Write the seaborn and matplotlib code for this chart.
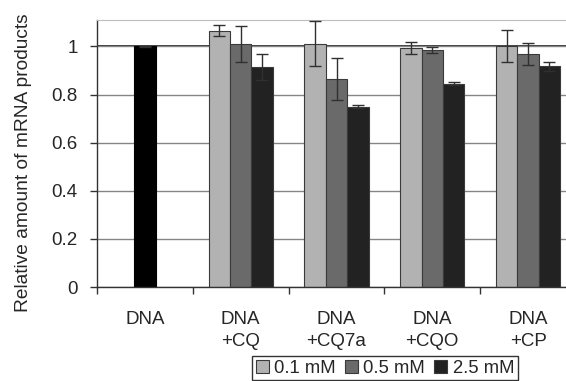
import numpy as np
import pandas as pd
import matplotlib
matplotlib.use("Agg")
import matplotlib.pyplot as plt
import seaborn as sns

# ---- data ----
CATEGORIES = ["DNA", "DNA\n+CQ", "DNA\n+CQ7a", "DNA\n+CQO", "DNA\n+CP"]
TREATMENTS = CATEGORIES[1:]
CONCS = ["0.1 mM", "0.5 mM", "2.5 mM"]

dna_value = [1.0]
dna_err = [0.003]

# rows = concentration, columns = treatment
values = [
    [1.066, 1.011, 0.995, 1.003],   # 0.1 mM
    [1.011, 0.866, 0.985, 0.968],   # 0.5 mM
    [0.914, 0.750, 0.846, 0.917],   # 2.5 mM
]
errors = [
    [0.024, 0.093, 0.025, 0.067],
    [0.076, 0.088, 0.013, 0.047],
    [0.053, 0.005, 0.006, 0.018],
]

COLORS = ["#b2b2b2", "#6a6a6a", "#222222"]

sns.set_style("white")
plt.rcParams["font.family"] = ["Liberation Sans", "DejaVu Sans"]
plt.rcParams["font.size"] = 13.5

df = pd.DataFrame({
    "group": np.repeat([TREATMENTS], len(CONCS), axis=0).ravel(),
    "conc": np.repeat(CONCS, len(TREATMENTS)),
    "value": np.ravel(values),
})

fig = plt.figure(figsize=(5.66, 3.81), dpi=100)
ax = fig.add_axes([97 / 566, 94 / 381, 479 / 566, 267 / 381])

# grid behind the bars
ax.set_axisbelow(True)
ax.yaxis.grid(True, color="#858585", linewidth=1.0)
ax.axhline(1.0, color="black", linewidth=1.1, zorder=0.5)

sns.barplot(data=df, x="group", y="value", hue="conc", order=CATEGORIES,
            hue_order=CONCS, palette=COLORS, width=0.67, gap=0,
            edgecolor="#3a3a3a", linewidth=0.8, errorbar=None, ax=ax,
            legend=True)

# error bars for the treatment groups
for cont, errs in zip(ax.containers, errors):
    xs = [b.get_x() + b.get_width() / 2 for b in cont]
    hs = [b.get_height() for b in cont]
    ax.errorbar(xs, hs, yerr=errs, fmt="none", ecolor="#303030",
                elinewidth=1.0, capsize=4.5, capthick=1.0, zorder=5)

# DNA reference bar (plain black, centred in its slot)
sns.barplot(x=["DNA"], y=dna_value, order=CATEGORIES, color="black",
            width=0.23, edgecolor="black", linewidth=0.8, errorbar=None, ax=ax)
dna_bar = ax.patches[-1]
ax.errorbar([dna_bar.get_x() + dna_bar.get_width() / 2], dna_value,
            yerr=dna_err, fmt="none", ecolor="#303030", elinewidth=1.0,
            capsize=4.5, zorder=5)

ax.set_ylim(0, 1.11)
ax.set_xlim(-0.5, len(CATEGORIES) - 0.5)
ax.set_yticks([0, 0.2, 0.4, 0.6, 0.8, 1.0])
ax.set_yticklabels(["0", "0.2", "0.4", "0.6", "0.8", "1"])
ax.set_xlabel("")
ax.set_ylabel("Relative amount of mRNA products", fontsize=13.8)
ax.yaxis.set_label_coords(-0.135, 0.464)

# tick marks between the categories, labels at the centres
ax.set_xticks(np.arange(-0.5, len(CATEGORIES), 1.0), minor=True)
ax.tick_params(axis="x", which="minor", length=5, width=1, color="#333333",
               direction="out", bottom=True)
ax.tick_params(axis="x", which="major", length=0, pad=17)
ax.tick_params(axis="y", length=5, width=1, color="#333333", direction="out",
               left=True, pad=9)
for lab in ax.get_xticklabels():
    lab.set_linespacing(1.45)

for side in ["left", "bottom"]:
    ax.spines[side].set_color("#333333")
    ax.spines[side].set_linewidth(1.0)
ax.spines["top"].set_color("#bdbdbd")
ax.spines["right"].set_visible(False)

handles, labels = ax.get_legend_handles_labels()
ax.legend(handles[:3], labels[:3], ncol=3, loc="upper center",
          bbox_to_anchor=(385 / 566, 25 / 381), bbox_transform=fig.transFigure,
          frameon=True, fancybox=False, edgecolor="#333333", framealpha=1,
          handlelength=0.7, handleheight=0.7, handletextpad=0.3,
          columnspacing=0.5, borderpad=0.2, borderaxespad=0, fontsize=13.3)

fig.savefig("out.png", dpi=100)
